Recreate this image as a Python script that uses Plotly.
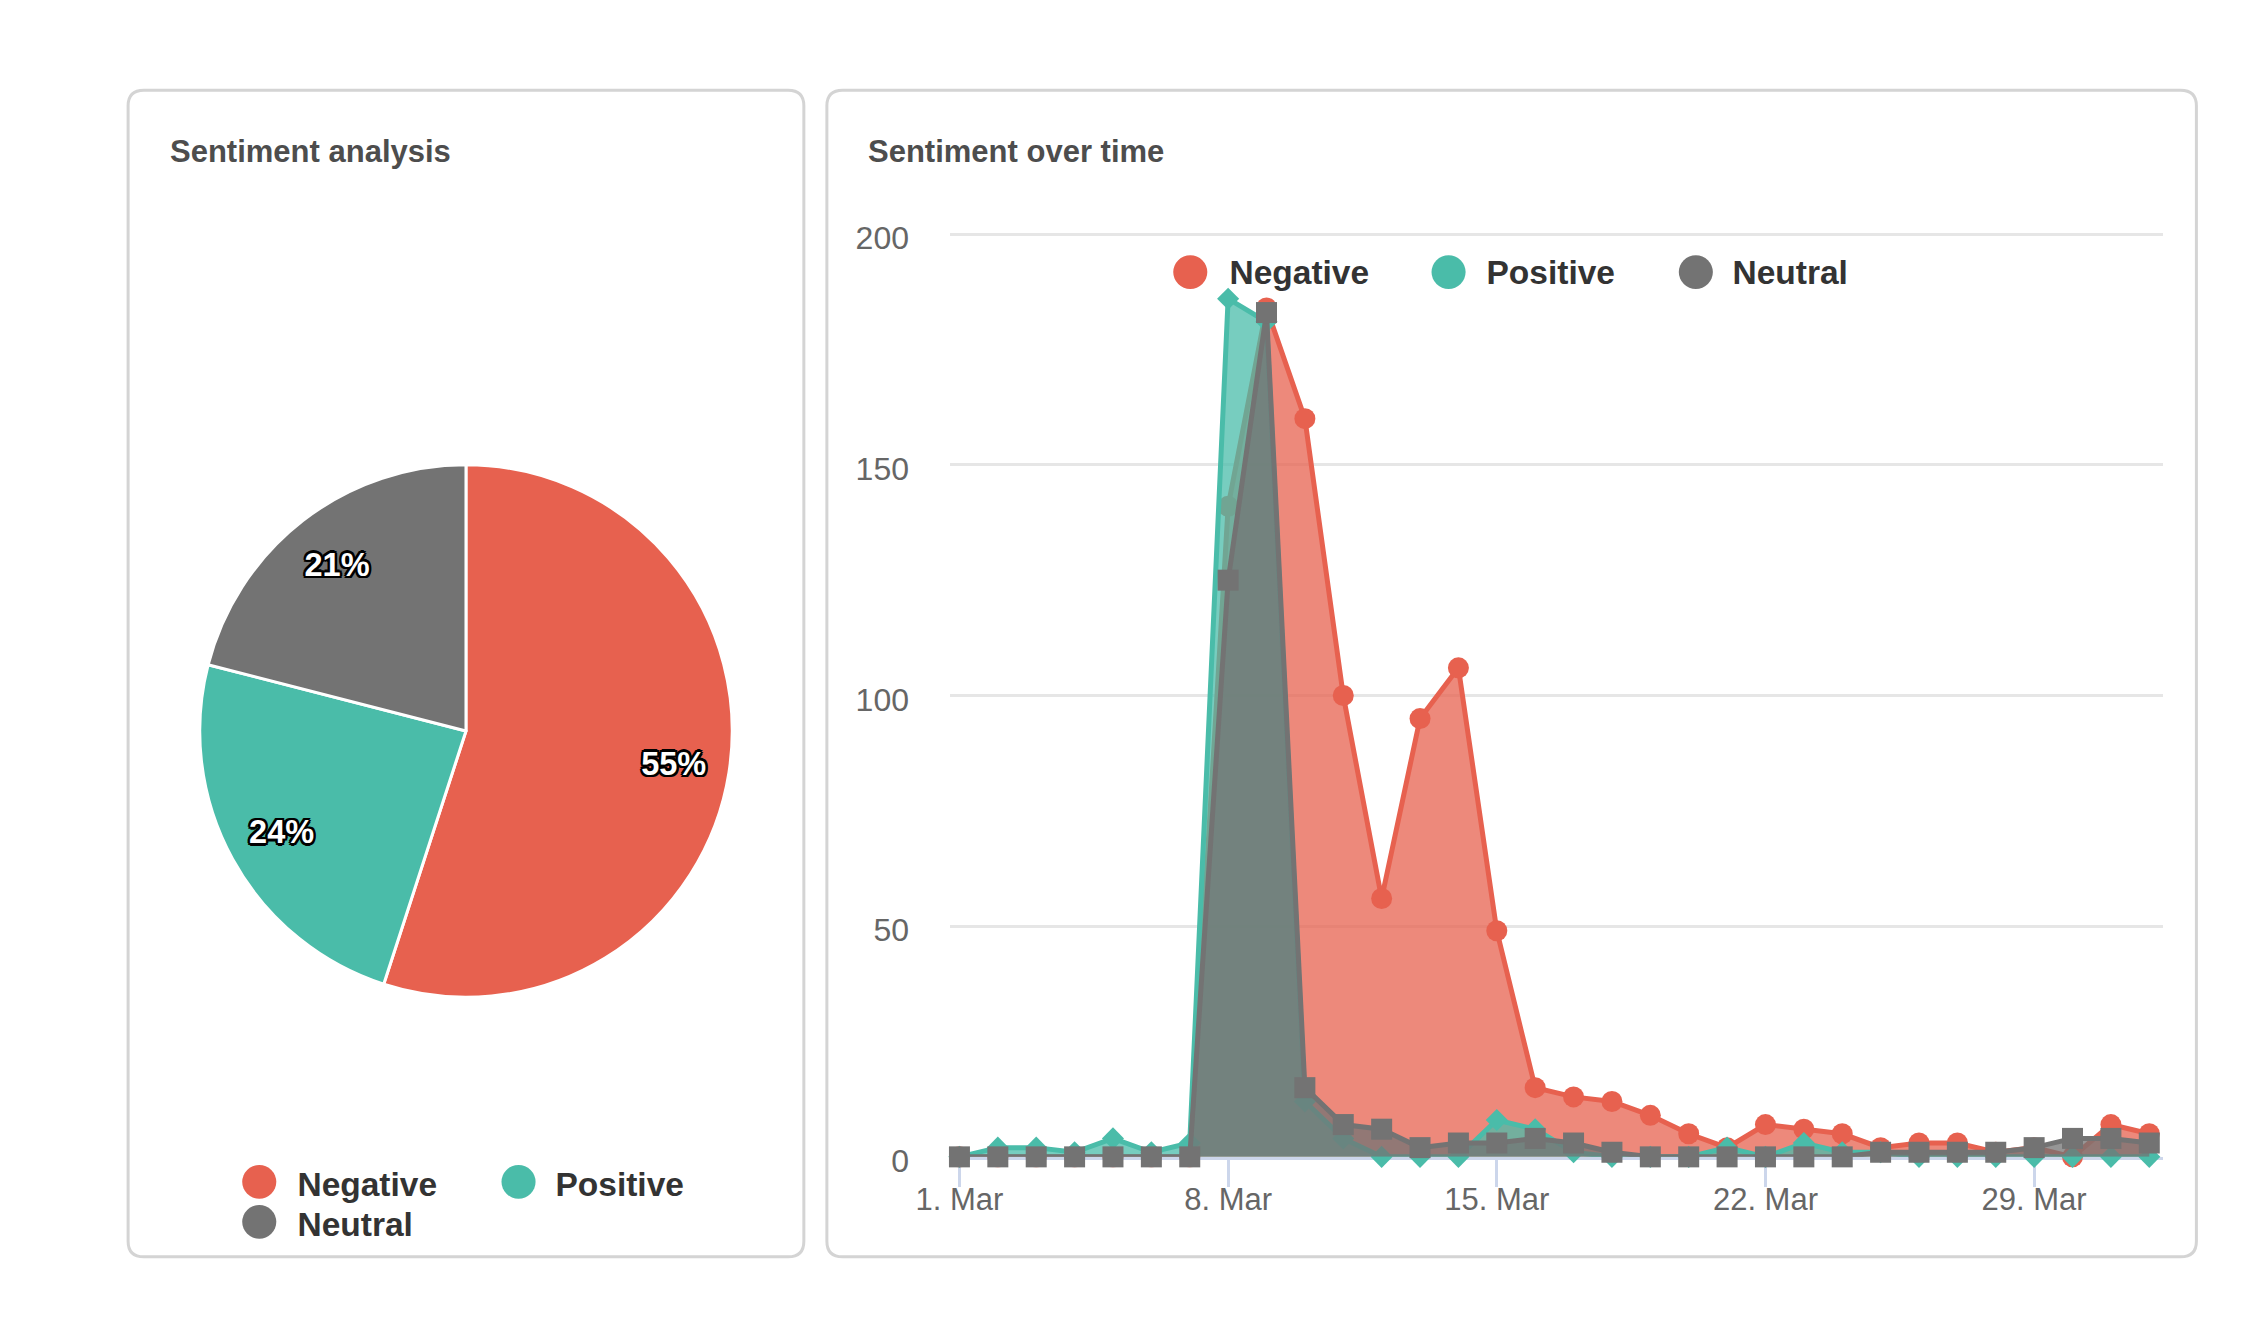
import pandas as pd
import plotly.graph_objects as go

# ---------------- data ----------------
START_DATE = "2020-03-01"
series_names = ["Negative", "Positive", "Neutral"]
negative = [0, 0, 0, 0, 0, 0, 0, 141, 184, 160, 100, 56, 95, 106, 49, 15, 13, 12, 9, 5,
            2, 7, 6, 5, 2, 3, 3, 1, 2, 0, 7, 5]
positive = [0, 2, 2, 1, 4, 1, 3, 186, 181, 12, 4, 0, 0, 0, 8, 6, 1, 0, 0, 0,
            2, 0, 3, 1, 1, 0, 0, 0, 0, 0, 0, 0]
neutral = [0, 0, 0, 0, 0, 0, 0, 125, 183, 15, 7, 6, 2, 3, 3, 4, 3, 1, 0, 0,
           0, 0, 0, 0, 1, 1, 1, 1, 2, 4, 4, 3]
pie_labels = ["Negative", "Positive", "Neutral"]
pie_values = [55, 24, 21]
y_ticks = [0, 50, 100, 150, 200]
titles = ["Sentiment analysis", "Sentiment over time"]

# ---------------- style ----------------
W, H = 2265, 1331
FONT = "Liberation Sans, Arial, Helvetica, sans-serif"
COLORS = {"Negative": "#E7614F", "Positive": "#4ABCA9", "Neutral": "#737373"}
SYMBOLS = {"Negative": "circle", "Positive": "diamond", "Neutral": "square"}
MSIZE = {"Negative": 21, "Positive": 17, "Neutral": 21}
FILLS = {"Negative": "rgba(231,97,79,0.75)", "Positive": "rgba(74,188,169,0.75)",
         "Neutral": "rgba(115,115,115,0.75)"}
LEGEND_W = {"Negative": 175, "Positive": 164, "Neutral": 160}

# layout placement helpers (target pixel positions -> figure pixels / paper fractions)
SX, SY, OX, OY = 0.9839, 0.9755, 35.0, 10.8


def fx(v):
    return (v - OX) / SX


def fy(v):
    return (v - OY) / SY


def PX(v):
    return fx(v) / W


def PY(v):
    return 1 - fy(v) / H


dates = pd.date_range(START_DATE, periods=len(negative), freq="D")
x0 = pd.Timestamp(START_DATE)
x_range = [x0 - pd.Timedelta(hours=5.9), x0 + pd.Timedelta(days=31, hours=8.8)]

fig = go.Figure()

values = {"Negative": negative, "Positive": positive, "Neutral": neutral}
for name in series_names:
    col = COLORS[name]
    fig.add_trace(go.Scatter(
        x=dates, y=values[name], name=name, mode="lines+markers",
        fill="tozeroy", fillcolor=FILLS[name],
        line=dict(color=col, width=5),
        marker=dict(symbol=SYMBOLS[name], size=MSIZE[name], color=col, line=dict(width=0)),
        legendgroup=name, showlegend=False, cliponaxis=False,
    ))

HIDDEN_MARKER = dict(symbol="circle", size=16, color="rgba(0,0,0,0)", line=dict(width=0))

# legend entries for the line chart
for name in series_names:
    fig.add_trace(go.Scatter(
        x=[None], y=[None], mode="markers", name=name, legendgroup=name,
        marker=HIDDEN_MARKER, legend="legend", legendwidth=LEGEND_W[name],
    ))

# pie
PIE_R = 273
pcx, pcy = fx(466.5), fy(731)
pie_domain = dict(x=[(pcx - PIE_R) / W, (pcx + PIE_R) / W],
                  y=[1 - (pcy + PIE_R) / H, 1 - (pcy - PIE_R) / H])
fig.add_trace(go.Pie(
    labels=pie_labels, values=pie_values, sort=False, direction="clockwise", rotation=0,
    marker=dict(colors=[COLORS[n] for n in pie_labels], line=dict(color="white", width=3)),
    textinfo="none", domain=pie_domain, showlegend=False, hoverinfo="label+percent",
))
# transparent ring only used to place the percentage labels
fig.add_trace(go.Pie(
    labels=pie_labels, values=pie_values, sort=False, direction="clockwise", rotation=0,
    hole=0.58, marker=dict(colors=["rgba(0,0,0,0)"] * 3, line=dict(width=0)),
    texttemplate="%{percent:.0%}", textposition="inside", insidetextorientation="horizontal",
    textfont=dict(family=FONT, size=32.5, color="white", weight="bold",
                  shadow="2px 2px 0 #000, -2px -2px 0 #000, 2px -2px 0 #000, -2px 2px 0 #000,"
                         " 0 2.5px 0 #000, 2.5px 0 0 #000, 0 -2.5px 0 #000, -2.5px 0 0 #000"),
    domain=pie_domain, showlegend=False, hoverinfo="skip",
))

# pie legend entries
for name in series_names:
    fig.add_trace(go.Scatter(
        x=[None], y=[None], mode="markers", name=name,
        marker=HIDDEN_MARKER,
        legend="legend3" if name == "Neutral" else "legend2",
        legendwidth=176,
    ))

ITEMW = 67
TEXT_GAP = ITEMW + 10
legend_font = dict(family=FONT, size=33.5, color="#333333", weight="bold")
common_leg = dict(orientation="h", xanchor="left", yanchor="middle", font=legend_font,
                  itemwidth=ITEMW, bgcolor="rgba(0,0,0,0)", borderwidth=0,
                  itemclick=False, itemdoubleclick=False)


def rounded_rect(x0p, y0p, x1p, y1p, r):
    X0, X1 = PX(x0p), PX(x1p)
    Y0, Y1 = PY(y0p), PY(y1p)
    rx, ry = r / W, r / H
    return (f"M {X0 + rx},{Y0} L {X1 - rx},{Y0} Q {X1},{Y0} {X1},{Y0 - ry} "
            f"L {X1},{Y1 + ry} Q {X1},{Y1} {X1 - rx},{Y1} "
            f"L {X0 + rx},{Y1} Q {X0},{Y1} {X0},{Y1 + ry} "
            f"L {X0},{Y0 - ry} Q {X0},{Y0} {X0 + rx},{Y0} Z")


def legend_dot(cx, cy, color, r=17.3):
    X, Y = fx(cx), fy(cy)
    return dict(type="circle", xref="paper", yref="paper",
                x0=(X - r) / W, x1=(X + r) / W, y0=1 - (Y + r) / H, y1=1 - (Y - r) / H,
                fillcolor=color, line=dict(width=0), layer="above")


shapes = [
    dict(type="path", xref="paper", yref="paper", path=rounded_rect(129, 90, 804, 1257, 16),
         fillcolor="white", line=dict(color="#d4d4d4", width=3), layer="below"),
    dict(type="path", xref="paper", yref="paper", path=rounded_rect(827, 90, 2195, 1257, 16),
         fillcolor="white", line=dict(color="#d4d4d4", width=3), layer="below"),
    # legend symbols (large circles like the original)
    legend_dot(1190, 272, COLORS["Negative"]),
    legend_dot(1448, 272, COLORS["Positive"]),
    legend_dot(1695, 272, COLORS["Neutral"]),
    legend_dot(260, 1182, COLORS["Negative"]),
    legend_dot(519, 1182, COLORS["Positive"]),
    legend_dot(260, 1222, COLORS["Neutral"]),
]

annotations = [
    dict(text=titles[0], x=PX(169), y=PY(151), xref="paper", yref="paper",
         xanchor="left", yanchor="middle", showarrow=False,
         font=dict(family=FONT, size=31, color="#4d4d4d", weight="bold")),
    dict(text=titles[1], x=PX(866), y=PY(151), xref="paper", yref="paper",
         xanchor="left", yanchor="middle", showarrow=False,
         font=dict(family=FONT, size=31, color="#4d4d4d", weight="bold")),
]

PX_PER_UNIT = (1157 - 234) / 200.0

fig.update_layout(
    width=W, height=H, autosize=False,
    margin=dict(l=0, r=0, t=0, b=0, pad=0),
    paper_bgcolor="white", plot_bgcolor="rgba(0,0,0,0)",
    font=dict(family=FONT),
    hovermode=False,
    shapes=shapes, annotations=annotations,
    legend=dict(x=(fx(1228) - TEXT_GAP) / W, y=PY(271), **common_leg),
    legend2=dict(x=(fx(297) - TEXT_GAP) / W, y=PY(1183), **common_leg),
    legend3=dict(x=(fx(297) - TEXT_GAP) / W, y=PY(1223), **common_leg),
    xaxis=dict(
        domain=[PX(950), PX(2162)], range=x_range, type="date",
        tick0=START_DATE, dtick=7 * 24 * 3600 * 1000, tickformat="%-d. %b",
        showgrid=False, zeroline=False,
        showline=True, linecolor="#ccd6eb", linewidth=2.5,
        ticks="outside", ticklen=27, tickwidth=2.5, tickcolor="#ccd6eb",
        ticklabelstandoff=-14,
        tickfont=dict(family=FONT, size=31, color="#666666"),
        layer="below traces", fixedrange=True,
    ),
    yaxis=dict(
        domain=[PY(1157), PY(234 - 0.5 * PX_PER_UNIT)], range=[0, 200.5], tickvals=y_ticks,
        showgrid=True, gridcolor="#e6e6e6", gridwidth=2.5, zeroline=False,
        showline=False, ticks="", ticklabelstandoff=40, ticklabelshift=4,
        tickfont=dict(family=FONT, size=32, color="#666666"),
        layer="below traces", fixedrange=True,
    ),
)

fig.write_html("out.html", config=dict(displayModeBar=False),
               post_script="document.body.style.margin='0';")
